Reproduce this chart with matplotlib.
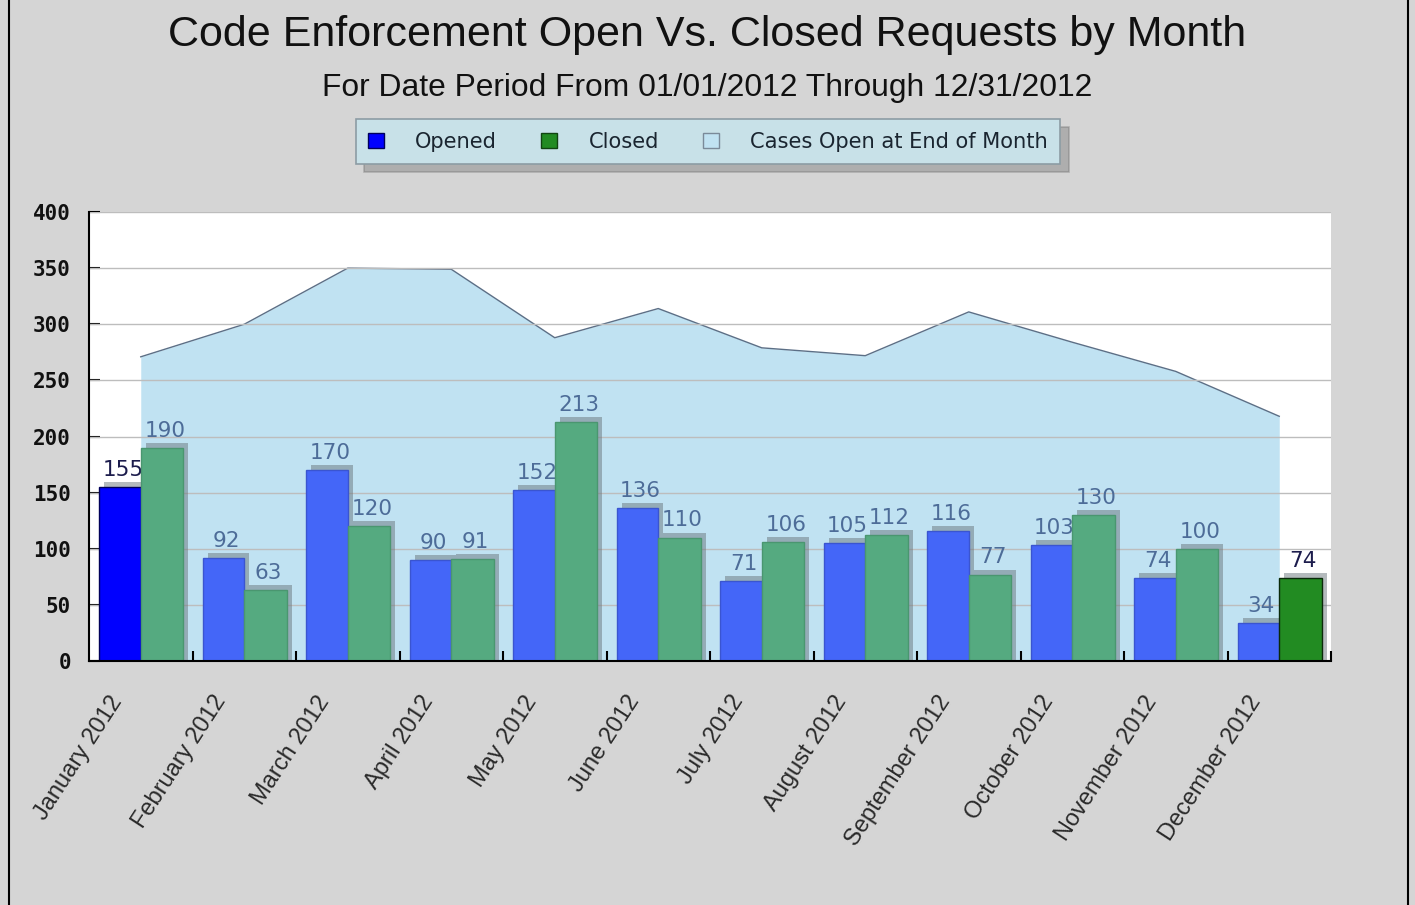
import matplotlib
matplotlib.use("Agg")
import matplotlib.pyplot as plt
from matplotlib.patches import Patch
from matplotlib.lines import Line2D
from matplotlib.transforms import ScaledTranslation
import numpy as np

months = ["January 2012", "February 2012", "March 2012", "April 2012", "May 2012",
          "June 2012", "July 2012", "August 2012", "September 2012", "October 2012",
          "November 2012", "December 2012"]
opened = [155, 92, 170, 90, 152, 136, 71, 105, 116, 103, 74, 34]
closed = [190, 63, 120, 91, 213, 110, 106, 112, 77, 130, 100, 74]
open_end = [271, 300, 350, 349, 288, 314, 279, 272, 311, 284, 258, 218]
yticks = [0, 50, 100, 150, 200, 250, 300, 350, 400]

title = "Code Enforcement Open Vs. Closed Requests by Month"
subtitle = "For Date Period From 01/01/2012 Through 12/31/2012"
legend_labels = ["Opened", "Closed", "Cases Open at End of Month"]

FIG_BG = "#d5d5d5"
AREA = "#c0e2f2"
AREA_LINE = "#5c6f86"
BLUE = "#4466f8"
BLUE_HI = "#0000ff"
GREEN = "#55aa80"
GREEN_HI = "#228b22"
LABEL = "#4d6c98"
LABEL_HI = "#1c1c4c"

fig = plt.figure(figsize=(14.15, 9.05), dpi=100, facecolor=FIG_BG)
ax = fig.add_axes([89/1415, 1-661/905, (1331-89)/1415, (661-212)/905])
ax.set_facecolor("white")

n = len(months)
x = np.arange(n)
bw_o = 0.40
bw_c = 0.41

# area
ax.fill_between(x, open_end, 0, color=AREA, lw=0, zorder=1)
ax.plot(x, open_end, color=AREA_LINE, lw=1.0, zorder=1.5)

# grid
for t in yticks[1:]:
    ax.axhline(t, color="#bdbdbd", lw=1.0, zorder=2)

shadow_tr = ax.transData + ScaledTranslation(5/100, 5/100, fig.dpi_scale_trans)
sh_kw = dict(color="#6a767c", alpha=0.5, lw=0, zorder=2.5, transform=shadow_tr)

# opened bars
ob = np.array(opened, dtype=float)
cb = np.array(closed, dtype=float)
ax.bar(x - bw_o, ob + 20, width=bw_o, bottom=-20, align="edge", **sh_kw)
o_colors = [BLUE_HI] + [BLUE] * (n - 1)
o_edges = ["#00005a"] + ["#3a55d0"] * (n - 1)
ax.bar(x - bw_o, ob, width=bw_o, align="edge", color=o_colors, edgecolor=o_edges,
       lw=1.0, zorder=3)
for i, v in enumerate(opened):
    ax.annotate(str(v), xy=(i - bw_o/2, v), xytext=(2, 8), textcoords="offset points",
                ha="center", va="baseline", fontsize=15.5, family="DejaVu Sans",
                color=LABEL_HI if i == 0 else LABEL, zorder=3.5)

# closed bars
ax.bar(x, cb + 20, width=bw_c, bottom=-20, align="edge", **sh_kw)
c_colors = [GREEN] * (n - 1) + [GREEN_HI]
c_edges = ["#4a9670"] * (n - 1) + ["#0a2a0a"]
ax.bar(x, cb, width=bw_c, align="edge", color=c_colors, edgecolor=c_edges,
       lw=1.0, zorder=4)
for i, v in enumerate(closed):
    ax.annotate(str(v), xy=(i + bw_c/2, v), xytext=(2, 8), textcoords="offset points",
                ha="center", va="baseline", fontsize=15.5, family="DejaVu Sans",
                color=LABEL_HI if i == n - 1 else LABEL, zorder=4.5)

ax.set_xlim(-0.5, n - 0.5)
ax.set_ylim(0, 400)

for s in ["top", "right"]:
    ax.spines[s].set_visible(False)
for s in ["left", "bottom"]:
    ax.spines[s].set_color("black")
    ax.spines[s].set_linewidth(1.5)
    ax.spines[s].set_zorder(6)

ax.set_yticks(yticks)
ax.set_yticklabels([str(t) for t in yticks], family="DejaVu Sans Mono",
                   fontweight="bold", fontsize=15, color="#111111")
ax.tick_params(axis="y", direction="in", length=8, width=1.5, pad=13)
ax.set_xticks(np.arange(n) + 0.5)
ax.set_xticklabels([])
ax.tick_params(axis="x", direction="in", length=7, width=1.5)

for i, m in enumerate(months):
    ax.annotate(m, xy=(i - 0.31, 0), xycoords=("data", "axes fraction"),
                xytext=(0, -22), textcoords="offset points", rotation=57,
                rotation_mode="anchor", ha="right", va="top",
                fontsize=17, family="Liberation Sans", color="#2a2a2a")

fig.text(0.5, 1-35/905, title, ha="center", va="center", fontsize=31.0,
         family="Liberation Sans", color="#111111")
fig.text(0.5, 1-88/905, subtitle, ha="center", va="center", fontsize=22.9,
         family="Liberation Sans", color="#111111")

handles = [Patch(facecolor=BLUE_HI, edgecolor="#00005a"),
           Patch(facecolor=GREEN_HI, edgecolor="#114411"),
           Patch(facecolor=AREA, edgecolor="#7a8a99")]
leg = fig.legend(handles, legend_labels, ncol=3, loc="center",
                 bbox_to_anchor=(708/1415, 1-141.5/905),
                 prop={"family": "DejaVu Sans", "size": 15.1},
                 handlelength=0.75, handleheight=0.75, handletextpad=1.5,
                 columnspacing=2.1, borderpad=0.6, frameon=True, fancybox=False,
                 shadow={"ox": 6, "oy": -6, "color": "#666666", "alpha": 0.35})
leg.get_frame().set_facecolor("#c8e1e8")
leg.get_frame().set_edgecolor("#8c9ca4")
leg.get_frame().set_linewidth(1.2)
leg.get_frame().set_alpha(1)
for t in leg.get_texts():
    t.set_color("#1a2530")

fig.add_artist(Line2D([9/1415, 9/1415], [0, 1], transform=fig.transFigure,
                      color="black", lw=1.5))
fig.add_artist(Line2D([1408/1415, 1408/1415], [0, 1], transform=fig.transFigure,
                      color="black", lw=1.5))

fig.savefig("out.png", dpi=100, facecolor=FIG_BG)
